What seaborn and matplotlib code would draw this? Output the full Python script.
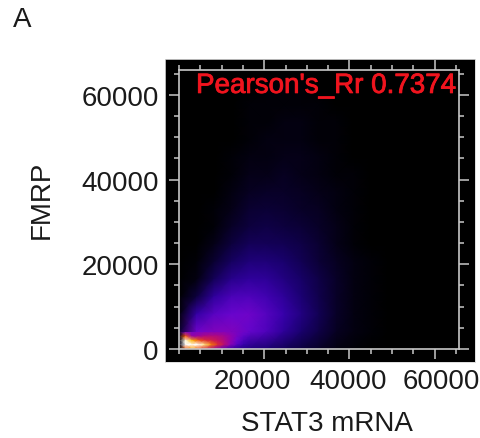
# Colocalization density plot, STAT3 mRNA vs FMRP
import matplotlib
matplotlib.use("Agg")
import matplotlib.pyplot as plt
import matplotlib.patheffects as pe
from matplotlib.colors import LinearSegmentedColormap
from matplotlib.ticker import MultipleLocator
from matplotlib.transforms import ScaledTranslation
import numpy as np
import seaborn as sns

sns.set_style("white")
plt.rcParams["font.family"] = ["Liberation Sans", "DejaVu Sans"]

# density (0-100), top row is the top of the plot
# cells are about 4096 units apart on both axes
density = [
    [0, 0, 0, 0, 0, 0, 0, 0, 0, 0, 0, 0, 0, 0, 0, 0, 0],
    [0, 0, 0, 0, 0, 1, 1, 1, 0, 0, 0, 0, 0, 0, 0, 0, 0],
    [0, 0, 0, 0, 1, 1, 1, 1, 1, 0, 0, 0, 0, 0, 0, 0, 0],
    [0, 0, 0, 0, 1, 1, 2, 2, 1, 1, 0, 0, 0, 0, 0, 0, 0],
    [0, 0, 0, 0, 1, 2, 2, 2, 1, 1, 0, 0, 0, 0, 0, 0, 0],
    [0, 0, 0, 1, 2, 2, 3, 3, 2, 1, 0, 0, 0, 0, 0, 0, 0],
    [0, 0, 0, 1, 3, 3, 4, 3, 2, 1, 1, 0, 0, 0, 0, 0, 0],
    [0, 0, 0, 2, 4, 5, 5, 4, 3, 2, 1, 0, 0, 0, 0, 0, 0],
    [0, 0, 1, 3, 6, 7, 6, 5, 4, 2, 1, 0, 0, 0, 0, 0, 0],
    [0, 0, 1, 5, 8, 9, 8, 7, 5, 3, 1, 0, 0, 0, 0, 0, 0],
    [0, 0, 3, 8, 12, 12, 11, 9, 6, 3, 1, 0, 0, 0, 0, 0, 0],
    [0, 1, 6, 13, 17, 17, 15, 11, 7, 4, 2, 1, 0, 0, 0, 0, 0],
    [0, 2, 12, 20, 23, 22, 18, 14, 9, 5, 2, 1, 0, 0, 0, 0, 0],
    [0, 8, 23, 29, 30, 27, 22, 16, 10, 5, 2, 1, 0, 0, 0, 0, 0],
    [1, 24, 32, 35, 36, 31, 25, 18, 11, 5, 2, 1, 0, 0, 0, 0, 0],
    [5, 36, 40, 40, 34, 30, 22, 15, 9, 4, 2, 1, 0, 0, 0, 0, 0],
    [0, 20, 20, 18, 18, 16, 12, 8, 5, 2, 1, 0, 0, 0, 0, 0, 0],
]

# finer reading of the hot corner next to the origin
corner_density = [
    [4, 38, 38, 40, 41, 42, 42, 42, 40, 38, 36, 34],
    [2, 70, 46, 47, 50, 51, 50, 48, 44, 38, 33, 30],
    [2, 98, 82, 70, 62, 58, 54, 50, 44, 35, 29, 26],
    [2, 100, 100, 100, 92, 75, 62, 52, 42, 31, 25, 22],
    [0, 70, 80, 70, 60, 50, 40, 30, 24, 20, 19, 18],
]

x_tick_values = [20000, 40000, 60000]
y_tick_values = [0, 20000, 40000, 60000]
pearson_text = "Pearson's_Rr 0.7374"

W, H = 480, 439
TEXT_COLOR = "#1a1a1a"


def box(left, top, right, bottom):
    # pixel box to figure fractions
    return [left / W, 1 - bottom / H, (right - left) / W, (bottom - top) / H]


fire = LinearSegmentedColormap.from_list("fire_like", [
    (0.00, (0, 0, 0)),
    (0.06, (10 / 255, 0, 50 / 255)),
    (0.15, (25 / 255, 0, 110 / 255)),
    (0.25, (55 / 255, 0, 170 / 255)),
    (0.35, (105 / 255, 5 / 255, 205 / 255)),
    (0.45, (150 / 255, 0, 170 / 255)),
    (0.55, (200 / 255, 20 / 255, 90 / 255)),
    (0.68, (240 / 255, 70 / 255, 10 / 255)),
    (0.85, (255 / 255, 200 / 255, 0)),
    (1.00, (1, 1, 1)),
])

fig = plt.figure(figsize=(W / 100, H / 100), dpi=100, facecolor="white")

# black plate behind everything
plate = fig.add_axes(box(165, 60, 475, 363), facecolor="black")
plate.set_xticks([])
plate.set_yticks([])
for s in plate.spines.values():
    s.set_color("#d8d8d8")
    s.set_linewidth(0.6)


def draw_density(values, ax):
    arr = np.array(values)
    sns.heatmap(arr, ax=ax, cmap=fire, vmin=0, vmax=100, cbar=False,
                xticklabels=False, yticklabels=False, shading="gouraud")
    ax.set_xlim(0, arr.shape[1] - 1)
    ax.set_ylim(arr.shape[0] - 1, 0)
    ax.set_axis_off()


main = fig.add_axes(box(179, 71, 459, 350))
draw_density(density, main)

corner = fig.add_axes(box(179, 333, 250, 350))
draw_density(corner_density, corner)

# axis frame and ticks in real units on top of the density
ax = fig.add_axes(box(179, 71, 459, 350), facecolor="none")
ax.set_xlim(0, 65700)
ax.set_ylim(0, 65880)
ax.set_xticks(x_tick_values)
ax.set_xticklabels([str(v) for v in x_tick_values])
ax.set_yticks(y_tick_values)
ax.set_yticklabels([str(v) for v in y_tick_values])
ax.xaxis.set_minor_locator(MultipleLocator(5000))
ax.yaxis.set_minor_locator(MultipleLocator(5000))
ax.tick_params(axis="both", which="major", direction="out", length=7, width=1.1,
               color="#c8c8c8", labelcolor=TEXT_COLOR, labelsize=20,
               top=True, right=True, bottom=True, left=True)
ax.tick_params(axis="x", which="major", pad=7)
ax.tick_params(axis="y", which="major", pad=7.5)
ax.tick_params(axis="both", which="minor", direction="out", length=3.5, width=1.1,
               color="#c8c8c8", top=True, right=True, bottom=True, left=True)
for s in ax.spines.values():
    s.set_visible(True)
    s.set_color("#c8c8c8")
    s.set_linewidth(1.2)

# x labels do not sit right under their ticks in the original
for label, dx in zip(ax.get_xticklabels(), [-12, -1.5, 7]):
    label.set_transform(label.get_transform() + ScaledTranslation(dx / 100, 0, fig.dpi_scale_trans))

# original lettering is a bit heavier from the blur
ax.text(0.988, 0.943, pearson_text, transform=ax.transAxes, ha="right", va="center",
        color="#f0141e", fontsize=20,
        path_effects=[pe.withStroke(linewidth=0.6, foreground="#f0141e")])

fig.text(326.5 / W, 1 - 424 / H, "STAT3 mRNA", ha="center", va="center", fontsize=20, color=TEXT_COLOR)
fig.text(42 / W, 1 - 200 / H, "FMRP", ha="center", va="center", rotation=90, fontsize=20, color=TEXT_COLOR)
fig.text(22.5 / W, 1 - 20 / H, "A", ha="center", va="center", fontsize=20, color=TEXT_COLOR)

fig.savefig("out.png", dpi=100)
